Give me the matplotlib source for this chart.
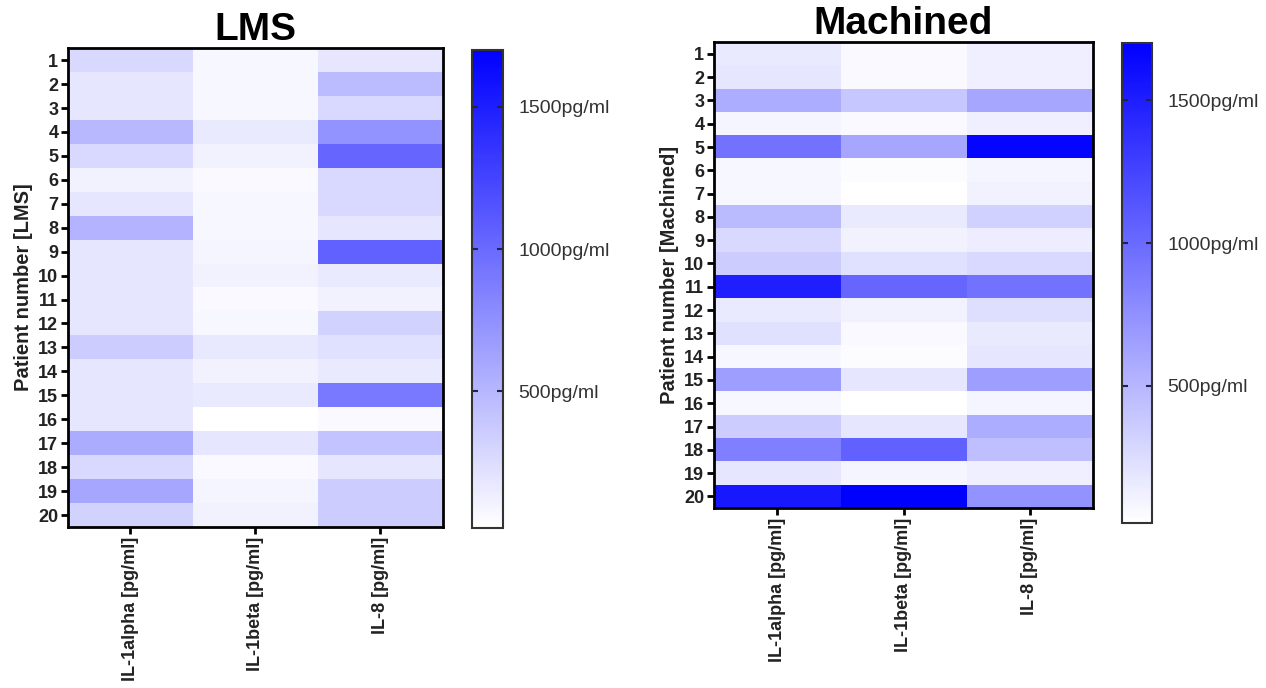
import matplotlib.pyplot as plt
from matplotlib.colors import LinearSegmentedColormap
import numpy as np

plt.rcParams['font.family'] = ['Liberation Sans', 'DejaVu Sans']

# datos (pg/ml)
pacientes = [str(i) for i in range(1, 21)]
citoquinas = ['IL-1alpha [pg/ml]', 'IL-1beta [pg/ml]', 'IL-8 [pg/ml]']

lms_il1a = [270, 190, 190, 490, 270, 110, 190, 520, 190, 190,
            190, 190, 360, 190, 190, 190, 570, 270, 610, 320]
lms_il1b = [75, 75, 75, 160, 110, 60, 75, 75, 90, 110,
            60, 75, 175, 110, 160, 25, 190, 60, 90, 110]
lms_il8 = [190, 470, 270, 730, 1030, 270, 270, 190, 1060, 160,
           110, 320, 225, 160, 900, 60, 410, 190, 360, 360]

mach_il1a = [160, 190, 560, 90, 945, 75, 75, 475, 275, 360,
             1500, 160, 225, 75, 660, 75, 360, 860, 190, 1530]
mach_il1b = [60, 60, 390, 60, 610, 40, 25, 160, 110, 225,
             1030, 110, 60, 40, 190, 25, 190, 1060, 90, 1700]
mach_il8 = [125, 125, 610, 125, 1665, 90, 110, 325, 140, 275,
            945, 240, 160, 190, 660, 90, 560, 440, 125, 730]

vmin, vmax = 20, 1700
cmap = LinearSegmentedColormap.from_list('blancoazul', ['#ffffff', '#0000ff'])


def dibujar_mapa(fig, pos_mapa, pos_barra, datos, titulo, etiqueta_y):
    ax = fig.add_axes(pos_mapa)
    im = ax.imshow(np.array(datos).T, cmap=cmap, vmin=vmin, vmax=vmax,
                   aspect='auto', interpolation='nearest')
    ax.set_yticks(range(len(pacientes)))
    ax.set_yticklabels(pacientes, fontsize=13, fontweight='bold', color='#222222')
    ax.set_xticks(range(len(citoquinas)))
    ax.set_xticklabels(citoquinas, rotation=90, fontsize=13, fontweight='bold',
                       color='#222222')
    ax.set_ylabel(etiqueta_y, fontsize=14.5, fontweight='bold', color='#222222',
                  labelpad=4)
    ax.set_title(titulo, fontsize=28, fontweight='bold', pad=2)
    ax.tick_params(length=5, width=2, pad=2)
    for s in ax.spines.values():
        s.set_linewidth(2)

    cax = fig.add_axes(pos_barra)
    cb = fig.colorbar(im, cax=cax)
    cb.set_ticks([500, 1000, 1500])
    cb.set_ticklabels(['500pg/ml', '1000pg/ml', '1500pg/ml'])
    cb.ax.tick_params(direction='in', left=True, right=True, length=4, width=1.5,
                      labelsize=14, labelcolor='#333333', color='#222244', pad=11)
    cb.outline.set_linewidth(1.5)
    cb.outline.set_edgecolor('#333333')


fig = plt.figure(figsize=(12.66, 6.88), dpi=100)

dibujar_mapa(fig, [0.0537, 0.234, 0.2962, 0.696], [0.3728, 0.2326, 0.0245, 0.695],
             [lms_il1a, lms_il1b, lms_il8], 'LMS', 'Patient number [LMS]')
dibujar_mapa(fig, [0.564, 0.2616, 0.2994, 0.677], [0.8863, 0.2398, 0.0237, 0.6977],
             [mach_il1a, mach_il1b, mach_il8], 'Machined', 'Patient number [Machined]')

fig.savefig('out.png', dpi=100)
